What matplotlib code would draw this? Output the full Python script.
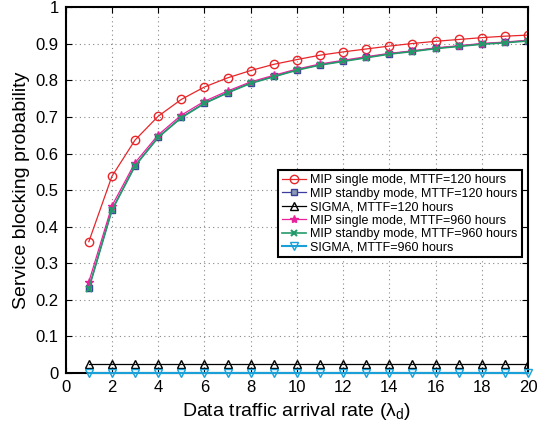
import numpy as np
import matplotlib.pyplot as plt

plt.rcParams['font.family'] = ['Liberation Sans', 'DejaVu Sans']

rate = np.arange(1, 21)

mip_single_120 = [0.359, 0.538, 0.637, 0.702, 0.748, 0.782, 0.807, 0.827, 0.844, 0.857,
                  0.869, 0.878, 0.886, 0.894, 0.901, 0.907, 0.912, 0.917, 0.921, 0.924]
mip_standby_120 = [0.232, 0.446, 0.567, 0.645, 0.699, 0.738, 0.767, 0.793, 0.811, 0.829,
                   0.843, 0.853, 0.863, 0.873, 0.880, 0.888, 0.894, 0.900, 0.904, 0.909]
sigma_120 = [0.025] * 20
mip_single_960 = [0.249, 0.457, 0.575, 0.651, 0.705, 0.743, 0.771, 0.796, 0.814, 0.831,
                  0.845, 0.855, 0.865, 0.874, 0.881, 0.889, 0.895, 0.901, 0.905, 0.910]
mip_standby_960 = [0.231, 0.445, 0.566, 0.644, 0.698, 0.737, 0.766, 0.792, 0.810, 0.828,
                   0.842, 0.852, 0.862, 0.872, 0.879, 0.887, 0.893, 0.899, 0.903, 0.908]
sigma_960 = [0.0] * 20

fig = plt.figure(figsize=(5.39, 4.25), dpi=100)
ax = fig.add_axes([65.7 / 539, 1 - 373 / 425, (528 - 65.7) / 539, (373 - 7.3) / 425])

ax.plot(rate, mip_single_120, '-o', color='#e8262a', mfc='none', ms=6, lw=0.9,
        label='MIP single mode, MTTF=120 hours')
ax.plot(rate, mip_standby_120, '-s', color='#3c3c9c', mfc='#8a9ab0', ms=5, lw=0.9,
        label='MIP standby mode, MTTF=120 hours')
ax.plot(rate, sigma_120, '-^', color='black', mfc='none', ms=6, lw=0.9,
        label='SIGMA, MTTF=120 hours')
ax.plot(rate, mip_single_960, '-*', color='#e8229a', ms=6, lw=0.9,
        label='MIP single mode, MTTF=960 hours')
ax.plot(rate, mip_standby_960, '-x', color='#229a6a', ms=4, mew=1.5, lw=1.2,
        label='MIP standby mode, MTTF=960 hours')
ax.plot(rate, sigma_960, '-v', color='#1aa0d8', mfc='none', ms=6, lw=1.5,
        label='SIGMA, MTTF=960 hours', clip_on=False, zorder=5)

ax.set_xlim(0, 20)
ax.set_ylim(0, 1)
ax.set_xticks(np.arange(0, 21, 2))
ax.set_yticks(np.arange(0, 1.01, 0.1))
ax.set_yticklabels(['0', '0.1', '0.2', '0.3', '0.4', '0.5', '0.6', '0.7', '0.8', '0.9', '1'])
ax.grid(True, linestyle=(0, (1, 3)), color='#888888', lw=0.8)
ax.tick_params(direction='in', top=True, right=True, labelsize=12, length=4, pad=5)
for s in ax.spines.values():
    s.set_linewidth(1.5)

ax.set_xlabel(r'Data traffic arrival rate ($\mathregular{\lambda_d}$)', fontsize=14)
ax.set_ylabel('Service blocking probability', fontsize=14)

leg = ax.legend(loc='upper left', bbox_to_anchor=((278 - 65.7) / 462.3, (373 - 170.3) / 365.7),
                fontsize=9, handlelength=1.9, handletextpad=0.4, labelspacing=0.12,
                borderpad=0.3, fancybox=False, framealpha=1, borderaxespad=0)
leg.get_frame().set_edgecolor('black')
leg.get_frame().set_linewidth(1.5)

fig.savefig('out.png', dpi=100)
